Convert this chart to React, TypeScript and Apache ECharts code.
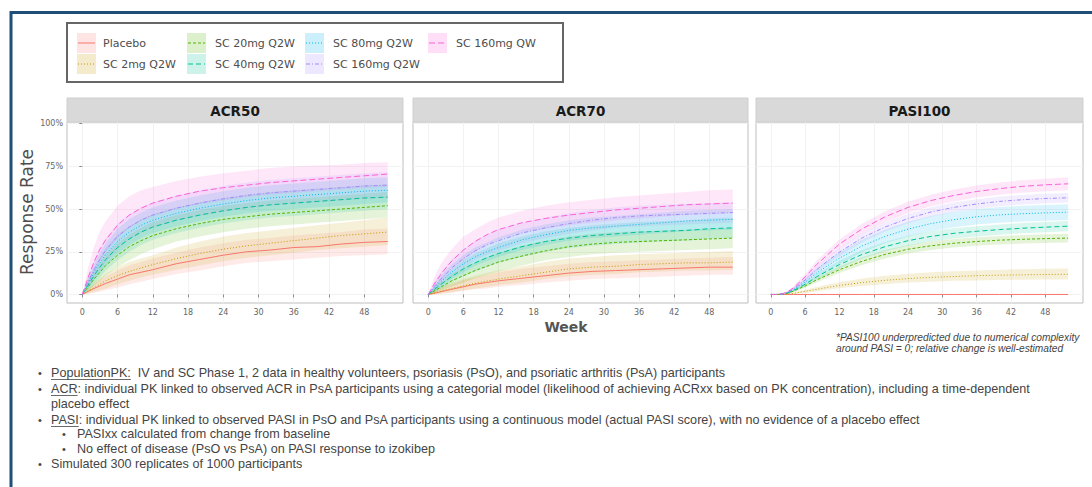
import React, { useEffect, useRef } from 'react';
import * as echarts from 'echarts';

// Simulated response rates (%) by week, per dose group
const WEEKS = [0, 1, 2, 3, 4, 6, 8, 10, 12, 16, 20, 24, 28, 32, 36, 40, 44, 48, 52];
const X_TICKS = [0, 6, 12, 18, 24, 30, 36, 42, 48];
const Y_TICKS = [0, 25, 50, 75, 100];
const PANELS = ['ACR50', 'ACR70', 'PASI100'];
const GROUPS = ['Placebo', 'SC 2mg Q2W', 'SC 20mg Q2W', 'SC 40mg Q2W', 'SC 80mg Q2W', 'SC 160mg Q2W', 'SC 160mg QW'];

const ACR50_MEAN = [
  [0, 1.8, 3.5, 5, 6.5, 9, 11.5, 13, 14.5, 18, 20.5, 23, 25, 26, 27.5, 28, 29.5, 30.5, 31],
  [0, 2, 4, 6, 8, 11, 13.5, 15.5, 17.5, 21, 24, 26.5, 28.5, 30, 31.5, 33, 34.5, 35.5, 36.5],
  [0, 4.5, 9, 13, 17, 23, 28, 31.5, 34.5, 38.5, 41.5, 44, 45.5, 47, 48, 49, 50, 51, 52],
  [0, 5.5, 11, 16, 20.5, 27.5, 32.5, 36.5, 39.5, 43.5, 46.5, 49, 51, 52.5, 53.5, 54.5, 55.5, 56.5, 57],
  [0, 6.5, 13, 18.5, 23.5, 31, 36.5, 40.5, 43.5, 47.5, 50.5, 53, 55, 56.5, 57.5, 58.5, 59.5, 60.5, 61],
  [0, 7.5, 14.5, 20.5, 26, 34, 39.5, 43.5, 46.5, 50.5, 53.5, 56, 58, 59.5, 60.5, 61.5, 62.5, 63.5, 64],
  [0, 10, 19, 26.5, 32, 40.5, 46.5, 50.5, 53.5, 57.5, 60.5, 62.5, 64, 65.5, 66.5, 67.5, 68.5, 69.5, 70.5],
];
const ACR50_LO = [
  [0, 0.3, 1, 1.8, 2.6, 4, 6, 7.5, 9, 12, 14, 16.5, 18.5, 19.5, 20.5, 21.5, 22.5, 23, 23.5],
  [0, 0.5, 1.5, 2.5, 3.5, 6, 8, 10, 11.5, 14.5, 17, 19.5, 21.5, 23, 24.5, 26, 27, 28, 29],
  [0, 2, 5, 8, 11, 16, 20, 23.5, 26.5, 31, 34, 36.5, 38.5, 40, 41, 42, 43, 44, 45],
  [0, 2.5, 6.5, 10, 14, 20, 25, 29, 32, 36, 39, 41.5, 43.5, 45, 46, 47, 48, 49, 50],
  [0, 3.5, 8, 12.5, 17, 24, 29, 33, 36, 40, 43, 45.5, 47.5, 49, 50, 51, 52, 53, 54],
  [0, 4, 9, 14, 19, 26.5, 32, 36, 39, 43, 46, 48.5, 50.5, 52, 53, 54, 55, 56, 56.5],
  [0, 6, 13, 19.5, 25, 33, 39, 43, 46, 50, 53, 55, 57, 58.5, 59.5, 60.5, 61.5, 62.5, 63],
];
const ACR50_HI = [
  [0, 3.5, 6, 8.5, 10.5, 14, 17, 19, 21, 24.5, 27.5, 30, 32, 33, 34.5, 35.5, 36.5, 38, 38.5],
  [0, 4, 7, 9.5, 12, 16, 19, 21, 23, 27.5, 31, 34, 36, 37.5, 39, 40.5, 42, 43.5, 45],
  [0, 7.5, 13, 18, 23, 30, 35, 39, 42.5, 46.5, 49.5, 52, 53.5, 55, 56, 57, 58, 59, 60],
  [0, 8.5, 15.5, 21.5, 27, 35, 40, 44, 47, 51, 54, 56.5, 58.5, 60, 61, 62, 63, 64, 64.5],
  [0, 10, 18, 24.5, 30, 38.5, 44, 48, 51, 55, 58, 60.5, 62.5, 64, 65, 66, 67, 68, 68.5],
  [0, 11, 20, 27, 33, 41.5, 47, 51, 54, 58, 61, 63.5, 65.5, 67, 68, 69, 70, 71, 71.5],
  [0, 16, 28, 37, 43, 52, 57.5, 61, 63, 66.5, 69, 71, 72.5, 74, 75, 75.5, 76, 77, 77.5],
];

const ACR70_MEAN = [
  [0, 0.7, 1.5, 2.3, 3, 4.5, 6, 7, 8, 9.5, 11, 12.5, 13.5, 14, 14.5, 15, 15.5, 16, 16],
  [0, 0.8, 1.7, 2.6, 3.5, 5, 6.5, 7.8, 9, 11, 13, 15, 16, 16.5, 17.5, 18, 18.5, 18.5, 19],
  [0, 2, 4, 6, 8, 11, 14, 16.5, 19, 22.5, 25.5, 28, 29.5, 30.5, 31, 31.5, 32, 32.5, 33],
  [0, 2.8, 5.5, 8, 10.5, 15, 18.5, 21.5, 24, 28, 31, 33, 34.5, 35.5, 36.5, 37, 37.5, 38.5, 39],
  [0, 3.5, 7, 10, 13, 18, 22, 25, 27.5, 32, 35, 37.5, 39, 40, 41, 42, 43, 43.5, 44],
  [0, 4.5, 8.5, 12, 15.5, 21, 25.5, 29, 31.5, 36, 39, 41.5, 43.5, 45, 46, 46.5, 47, 47.5, 48],
  [0, 6, 11, 15.5, 19.5, 26, 31, 35, 38, 42, 44.5, 46.5, 48, 49.5, 50.5, 51.5, 52.5, 53, 53.5],
];
const ACR70_LO = [
  [0, 0, 0.3, 0.7, 1, 2, 3, 3.5, 4.5, 5.5, 7, 8, 9, 9.5, 10, 10.5, 11, 11.5, 11.5],
  [0, 0, 0.4, 0.8, 1.3, 2.5, 3.5, 4.5, 5.5, 7, 9, 10.5, 11.5, 12, 13, 13.5, 14, 14, 14.5],
  [0, 0.8, 2, 3.3, 4.6, 7, 9.5, 11.5, 13.5, 17, 20, 22, 23.5, 24.5, 25, 25.5, 26, 26.5, 27],
  [0, 1.2, 3, 5, 7, 10.5, 13.5, 16, 18.5, 22, 25, 27, 28.5, 29.5, 30.5, 31, 31.5, 32.5, 33],
  [0, 1.5, 4, 6.5, 9, 13, 17, 19.5, 22, 26, 29, 31.5, 33, 34, 35, 36, 37, 37.5, 38],
  [0, 2, 5, 8, 11, 15.5, 20, 23, 25.5, 30, 33, 35.5, 37.5, 39, 40, 40.5, 41, 41.5, 42],
  [0, 3, 7, 11, 14.5, 20, 25, 29, 32, 36, 38.5, 40.5, 42, 43.5, 44.5, 45.5, 46.5, 47, 47.5],
];
const ACR70_HI = [
  [0, 2, 3.5, 5, 6, 8.5, 10, 11.5, 13, 15, 16.5, 18, 19, 19.5, 20, 20.5, 21, 21.5, 22],
  [0, 2.5, 4, 5.5, 7, 9, 11, 12.5, 14, 16.5, 19, 21, 22, 23, 23.5, 24, 24.5, 25, 25.5],
  [0, 3.5, 6.5, 9, 12, 15.5, 19, 22, 24.5, 28.5, 31.5, 34, 35.5, 36.5, 37, 37.5, 38, 38.5, 39],
  [0, 4.5, 8.5, 11.5, 14.5, 20, 24, 27, 30, 34, 37, 39, 40.5, 41.5, 42.5, 43, 43.5, 44.5, 45],
  [0, 5.5, 10.5, 14, 17.5, 23, 27.5, 30.5, 33.5, 38, 41, 43.5, 45, 46, 47, 48, 49, 49.5, 50],
  [0, 7, 12.5, 16.5, 20.5, 26.5, 31.5, 35, 38, 42, 45, 47.5, 49.5, 51, 52, 52.5, 53, 53.5, 54],
  [0, 10, 17, 22, 26.5, 34, 38, 42, 45, 49, 52, 54, 55.5, 57, 58, 59, 60, 61, 61.5],
];

const PASI100_MEAN = [
  [0, 0, 0, 0, 0, 0, 0, 0, 0, 0, 0, 0, 0, 0, 0, 0, 0, 0, 0],
  [0, 0, 0.1, 0.3, 0.7, 1.8, 3, 4.2, 5.3, 7, 8.3, 9.3, 10, 10.5, 11, 11.3, 11.5, 11.7, 11.8],
  [0, 0, 0.2, 0.8, 2, 5, 8.5, 11.5, 14.5, 19.5, 23.5, 26.5, 28.5, 30, 31, 31.8, 32.3, 32.7, 33],
  [0, 0, 0.2, 1, 2.4, 6, 10.3, 14, 17.5, 23.5, 28, 31.5, 34, 35.8, 37, 38, 38.8, 39.4, 40],
  [0, 0, 0.3, 1.2, 2.9, 7.3, 12.5, 17, 21.3, 28.5, 34, 38.3, 41.5, 43.8, 45.5, 46.6, 47.3, 47.8, 48.2],
  [0, 0, 0.3, 1.4, 3.3, 8.5, 14.5, 19.8, 24.8, 33.2, 39.5, 44.5, 48.3, 51, 53, 54.5, 55.5, 56.2, 56.6],
  [0, 0, 0.4, 1.7, 4, 10.3, 17.5, 23.5, 29.5, 38.5, 45.5, 51, 55, 58, 60.3, 62, 63.3, 64.2, 64.8],
];
const PASI100_LO = [
  [0, 0, 0, 0, 0, 0, 0, 0, 0, 0, 0, 0, 0, 0, 0, 0, 0, 0, 0],
  [0, 0, 0, 0.1, 0.3, 1, 1.8, 2.8, 3.6, 5, 6, 7, 7.5, 8, 8.2, 8.4, 8.6, 8.8, 8.8],
  [0, 0, 0.1, 0.5, 1.4, 4, 7, 9.8, 12.5, 17.3, 21, 24, 26, 27.5, 28.5, 29.3, 29.8, 30.2, 30.5],
  [0, 0, 0.1, 0.6, 1.7, 4.8, 8.5, 12, 15.2, 21, 25.3, 28.6, 31, 32.8, 34, 35, 35.8, 36.4, 37],
  [0, 0, 0.1, 0.7, 1.9, 5.5, 10, 14, 18, 24.8, 30, 34, 37, 39.3, 41, 42, 42.7, 43.2, 43.6],
  [0, 0, 0.2, 1, 2.6, 7.2, 12.8, 17.8, 22.5, 30.6, 36.8, 41.7, 45.5, 48.2, 50.2, 51.7, 52.7, 53.4, 53.8],
  [0, 0, 0.2, 1.2, 3.1, 8.6, 15.3, 21, 26.8, 35.5, 42.3, 47.7, 51.6, 54.5, 56.8, 58.4, 59.6, 60.4, 61],
];
const PASI100_HI = [
  [0, 0, 0, 0, 0, 0, 0, 0, 0, 0, 0, 0, 0, 0, 0, 0, 0, 0, 0],
  [0, 0, 0.2, 0.6, 1.2, 2.8, 4.4, 5.8, 7.2, 9.3, 11, 12.2, 13, 13.6, 14.1, 14.5, 14.8, 15, 15.2],
  [0, 0, 0.3, 1.1, 2.6, 6, 10, 13.3, 16.5, 21.8, 26, 29, 31, 32.5, 33.5, 34.3, 34.8, 35.2, 35.5],
  [0, 0, 0.3, 1.4, 3.1, 7.2, 12.1, 16, 19.8, 26, 30.7, 34.4, 37, 38.8, 40, 41, 41.8, 42.4, 43],
  [0, 0, 0.5, 1.7, 3.9, 9.1, 15, 20, 24.6, 32.2, 38, 42.6, 46, 48.3, 50, 51.2, 51.9, 52.4, 52.8],
  [0, 0, 0.4, 1.8, 4, 9.8, 16.2, 21.8, 27.1, 35.8, 42.2, 47.3, 51.1, 53.8, 55.8, 57.3, 58.3, 59, 59.4],
  [0, 0, 0.6, 2.2, 4.9, 12, 19.7, 26, 32.2, 41.5, 48.7, 54.3, 58.4, 61.5, 63.8, 65.6, 66.9, 67.8, 68.6],
];

const PANEL_DATA = [
  { mean: ACR50_MEAN, lo: ACR50_LO, hi: ACR50_HI },
  { mean: ACR70_MEAN, lo: ACR70_LO, hi: ACR70_HI },
  { mean: PASI100_MEAN, lo: PASI100_LO, hi: PASI100_HI },
];

const BULLETS = [
  { level: 0, lead: 'PopulationPK:', rest: '  IV and SC Phase 1, 2 data in healthy volunteers, psoriasis (PsO), and psoriatic arthritis (PsA) participants' },
  { level: 0, lead: 'ACR', rest: ': individual PK linked to observed ACR in PsA participants using a categorial model (likelihood of achieving ACRxx based on PK concentration), including a time-dependent' },
  { level: -1, lead: '', rest: 'placebo effect' },
  { level: 0, lead: 'PASI', rest: ': individual PK linked to observed PASI in PsO and PsA participants using a continuous model (actual PASI score), with no evidence of a placebo effect' },
  { level: 1, lead: '', rest: 'PASIxx calculated from change from baseline' },
  { level: 1, lead: '', rest: 'No effect of disease (PsO vs PsA) on PASI response to izokibep' },
  { level: 0, lead: '', rest: 'Simulated 300 replicates of 1000 participants' },
];
const FOOTNOTE = [
  '*PASI100 underpredicted due to numerical complexity',
  'around PASI = 0; relative change is well-estimated',
];

// Styling
const COLORS = ['#F8766D', '#C49A00', '#53B400', '#00C094', '#00B6EB', '#A58AFF', '#FB61D7'];
const DASHES: any[] = ['solid', [1, 2], [3, 2], [5, 3], [1, 2], [4, 2, 1, 2], [6, 3]];
const GRIDS = [
  { left: 67, width: 336 },
  { left: 413, width: 335 },
  { left: 756, width: 327 },
];
const GRID_TOP = 122;
const GRID_H = 181;
const SANS = '"DejaVu Sans", sans-serif';
const BODY = '"Liberation Sans", Arial, sans-serif';

function textWidth(txt: string, font: string): number {
  const ctx = document.createElement('canvas').getContext('2d');
  if (!ctx) return txt.length * 5;
  ctx.font = font;
  return ctx.measureText(txt).width;
}

function bandSeries(pi: number, gi: number) {
  const { lo, hi } = PANEL_DATA[pi];
  const data = WEEKS.map((w, i) => [w, lo[gi][i], hi[gi][i]]);
  return {
    type: 'custom',
    name: GROUPS[gi],
    xAxisIndex: pi,
    yAxisIndex: pi,
    z: 1,
    silent: true,
    data,
    encode: { x: 0, y: [1, 2] },
    renderItem: (params: any, api: any) => {
      if (params.dataIndex !== 0) return null;
      const upper = data.map((d) => api.coord([d[0], d[2]]));
      const lower = data.map((d) => api.coord([d[0], d[1]])).reverse();
      return {
        type: 'polygon',
        shape: { points: upper.concat(lower) },
        style: { fill: COLORS[gi], opacity: 0.15 },
      };
    },
  };
}

function lineSeries(pi: number, gi: number) {
  const { mean } = PANEL_DATA[pi];
  return {
    type: 'line',
    name: GROUPS[gi],
    xAxisIndex: pi,
    yAxisIndex: pi,
    z: 3,
    silent: true,
    showSymbol: false,
    data: WEEKS.map((w, i) => [w, mean[gi][i]]),
    lineStyle: { color: COLORS[gi], width: 1, type: DASHES[gi] },
  };
}

function buildGraphics() {
  const g: any[] = [];
  // slide frame
  g.push({ type: 'rect', shape: { x: 11, y: 12.5, width: 1200, height: 600 }, style: { fill: 'none', stroke: '#1f4e79', lineWidth: 3 }, z: 10 });

  // legend
  g.push({ type: 'rect', shape: { x: 67, y: 23, width: 496, height: 59 }, style: { fill: '#fff', stroke: '#666', lineWidth: 2 }, z: 10 });
  const keyX = [77, 187, 305, 428];
  const labX = [103, 215, 333, 456];
  const rowY = [43, 64];
  GROUPS.forEach((name, gi) => {
    const col = Math.floor(gi / 2);
    const row = gi % 2;
    const kx = keyX[col];
    const cy = rowY[row];
    g.push({ type: 'rect', shape: { x: kx, y: cy - 10, width: 19, height: 20 }, style: { fill: COLORS[gi], opacity: 0.2 }, z: 11 });
    g.push({
      type: 'line',
      shape: { x1: kx + 1, y1: cy, x2: kx + 18, y2: cy },
      style: { stroke: COLORS[gi], lineWidth: 1, lineDash: DASHES[gi] === 'solid' ? null : DASHES[gi] },
      z: 12,
    });
    g.push({
      type: 'text', x: labX[col], y: cy, z: 12,
      style: { text: name, fontSize: 11, fontFamily: SANS, fill: '#4d4d4d', verticalAlign: 'middle', align: 'left' },
    });
  });

  // facet strips
  PANELS.forEach((title, pi) => {
    const gr = GRIDS[pi];
    g.push({ type: 'rect', shape: { x: gr.left, y: 98, width: gr.width, height: 24 }, style: { fill: '#d9d9d9', stroke: '#cfcfcf', lineWidth: 1 }, z: 10 });
    g.push({
      type: 'text', x: gr.left + gr.width / 2, y: 110.5, z: 11,
      style: { text: title, fontSize: 13.5, fontWeight: 'bold', fontFamily: SANS, fill: '#1a1a1a', align: 'center', verticalAlign: 'middle' },
    });
  });

  // axis titles
  g.push({
    type: 'text', x: 27, y: 212, rotation: Math.PI / 2, z: 10,
    style: { text: 'Response Rate', fontSize: 17, fontFamily: SANS, fill: '#4d4d4d', align: 'center', verticalAlign: 'middle' },
  });
  g.push({
    type: 'text', x: 566, y: 327, z: 10,
    style: { text: 'Week', fontSize: 14, fontWeight: 'bold', fontFamily: SANS, fill: '#555', align: 'center', verticalAlign: 'middle' },
  });

  // footnote
  FOOTNOTE.forEach((t, i) => {
    g.push({
      type: 'text', x: 836, y: 337 + i * 11, z: 10,
      style: { text: t, fontSize: 10.2, fontStyle: 'italic', fontFamily: BODY, fill: '#444', align: 'left', verticalAlign: 'middle' },
    });
  });

  // notes
  const fs = 12.6;
  const font = `${fs}px "Liberation Sans", Arial, sans-serif`;
  const lineY = [373, 389, 404, 420, 434, 449, 464];
  BULLETS.forEach((b, i) => {
    const y = lineY[i];
    const textX = b.level === 1 ? 77 : 51;
    const dotX = b.level === 1 ? 62 : 38;
    if (b.level >= 0) {
      g.push({ type: 'text', x: dotX, y, z: 10, style: { text: '•', fontSize: 11, fontFamily: BODY, fill: '#444', align: 'left', verticalAlign: 'middle' } });
    }
    let x = textX;
    if (b.lead) {
      g.push({ type: 'text', x, y, z: 10, style: { text: b.lead, fontSize: fs, fontFamily: BODY, fill: '#444', align: 'left', verticalAlign: 'middle' } });
      const w = textWidth(b.lead, font);
      g.push({ type: 'line', shape: { x1: x, y1: y + 6.5, x2: x + w, y2: y + 6.5 }, style: { stroke: '#444', lineWidth: 0.8 }, z: 10 });
      x += w;
    }
    g.push({ type: 'text', x, y, z: 10, style: { text: b.rest, fontSize: fs, fontFamily: BODY, fill: '#444', align: 'left', verticalAlign: 'middle' } });
  });
  return g;
}

export default function App() {
  const ref = useRef<HTMLDivElement>(null);

  useEffect(() => {
    if (!ref.current) return;
    const chart = echarts.init(ref.current, null, { renderer: 'svg' });

    const grid = GRIDS.map((gr) => ({
      left: gr.left, top: GRID_TOP, width: gr.width, height: GRID_H,
      show: true, borderColor: '#bdbdbd', borderWidth: 1, backgroundColor: '#fff', containLabel: false,
    }));

    const xAxis = PANELS.map((_, pi) => ({
      type: 'value', gridIndex: pi, min: -2.6, max: 54.6,
      axisLine: { show: false },
      axisTick: { show: true, customValues: X_TICKS, length: 3, lineStyle: { color: '#8c8c8c' } },
      axisLabel: { show: true, customValues: X_TICKS, fontSize: 8, color: '#666', margin: 5, fontFamily: SANS },
      splitLine: { show: true, lineStyle: { color: '#f2f2f2', width: 1 } },
    }));

    const yAxis = PANELS.map((_, pi) => ({
      type: 'value', gridIndex: pi, min: -5, max: 101,
      axisLine: { show: false },
      axisTick: { show: pi === 0, customValues: Y_TICKS, length: 3, lineStyle: { color: '#8c8c8c' } },
      axisLabel: { show: pi === 0, customValues: Y_TICKS, fontSize: 8, color: '#666', margin: 4, fontFamily: SANS, formatter: '{value}%' },
      splitLine: { show: true, lineStyle: { color: '#f2f2f2', width: 1 } },
    }));

    const series: any[] = [];
    PANELS.forEach((_, pi) => {
      GROUPS.forEach((__, gi) => series.push(bandSeries(pi, gi)));
      GROUPS.forEach((__, gi) => series.push(lineSeries(pi, gi)));
    });

    chart.setOption({
      animation: false,
      backgroundColor: '#fff',
      grid,
      xAxis,
      yAxis,
      series,
      graphic: buildGraphics(),
    });

    return () => chart.dispose();
  }, []);

  return <div ref={ref} style={{ position: 'fixed', left: 0, top: 0, width: 1092, height: 487, background: '#fff' }} />;
}
